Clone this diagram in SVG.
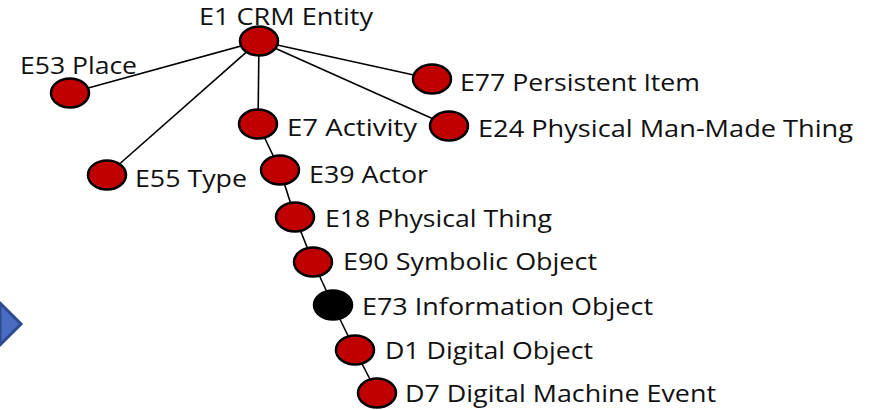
<svg xmlns="http://www.w3.org/2000/svg" width="871" height="410" viewBox="0 0 871 410">
<style>
.n{fill:#c00000;stroke:#000;stroke-width:2.5}
.k{fill:#000;stroke:#000;stroke-width:2.5}
.t{font-family:"Open Sans",sans-serif;font-size:24px;fill:#111}
.c line{stroke:#000;stroke-width:1.6}
</style>
<rect width="871" height="410" fill="#fff"/>
<g id="chevron"><polygon points="0,303 21,324 0,345" fill="#4a6bc2" stroke="#2e4a8f" stroke-width="3"/></g>
<g class="c" id="connectors">
<line x1="259" y1="41" x2="70" y2="93"/>
<line x1="259" y1="41" x2="107" y2="175"/>
<line x1="259" y1="41" x2="258" y2="124"/>
<line x1="259" y1="41" x2="432" y2="79"/>
<line x1="259" y1="41" x2="449" y2="126"/>
<line x1="258" y1="124" x2="280" y2="170"/>
<line x1="280" y1="170" x2="295" y2="217"/>
<line x1="295" y1="217" x2="313" y2="262"/>
<line x1="313" y1="262" x2="333" y2="305"/>
<line x1="333" y1="305" x2="355" y2="350"/>
<line x1="355" y1="350" x2="377" y2="393"/>
</g>
<g id="e1"><ellipse class="n" cx="259" cy="41" rx="19" ry="14.5"/><text class="t" x="199" y="25" font-size="23" textLength="174" lengthAdjust="spacingAndGlyphs">E1 CRM Entity</text></g>
<g id="e53"><ellipse class="n" cx="70" cy="93" rx="19" ry="14.5"/><text class="t" x="20" y="74" textLength="117" lengthAdjust="spacingAndGlyphs">E53 Place</text></g>
<g id="e55"><ellipse class="n" cx="107" cy="175" rx="19" ry="14.5"/><text class="t" x="135" y="187" textLength="112" lengthAdjust="spacingAndGlyphs">E55 Type</text></g>
<g id="e7"><ellipse class="n" cx="258" cy="124" rx="19" ry="14.5"/><text class="t" x="287" y="136" textLength="130" lengthAdjust="spacingAndGlyphs">E7 Activity</text></g>
<g id="e77"><ellipse class="n" cx="432" cy="79" rx="19" ry="14.5"/><text class="t" x="460" y="91" textLength="240" lengthAdjust="spacingAndGlyphs">E77 Persistent Item</text></g>
<g id="e24"><ellipse class="n" cx="449" cy="126" rx="19" ry="14.5"/><text class="t" x="478" y="137" textLength="375" lengthAdjust="spacingAndGlyphs">E24 Physical Man-Made Thing</text></g>
<g id="e39"><ellipse class="n" cx="280" cy="170" rx="19" ry="14.5"/><text class="t" x="309" y="183" textLength="119" lengthAdjust="spacingAndGlyphs">E39 Actor</text></g>
<g id="e18"><ellipse class="n" cx="295" cy="217" rx="19" ry="14.5"/><text class="t" x="325" y="227" textLength="227" lengthAdjust="spacingAndGlyphs">E18 Physical Thing</text></g>
<g id="e90"><ellipse class="n" cx="313" cy="262" rx="19" ry="14.5"/><text class="t" x="343" y="270" textLength="254" lengthAdjust="spacingAndGlyphs">E90 Symbolic Object</text></g>
<g id="e73"><ellipse class="k" cx="333" cy="305" rx="19" ry="14.5"/><text class="t" x="362" y="315" textLength="291" lengthAdjust="spacingAndGlyphs">E73 Information Object</text></g>
<g id="d1"><ellipse class="n" cx="355" cy="350" rx="19" ry="14.5"/><text class="t" x="385" y="359" textLength="208" lengthAdjust="spacingAndGlyphs">D1 Digital Object</text></g>
<g id="d7"><ellipse class="n" cx="377" cy="393" rx="19" ry="14.5"/><text class="t" x="405" y="402" textLength="311" lengthAdjust="spacingAndGlyphs">D7 Digital Machine Event</text></g>
</svg>
